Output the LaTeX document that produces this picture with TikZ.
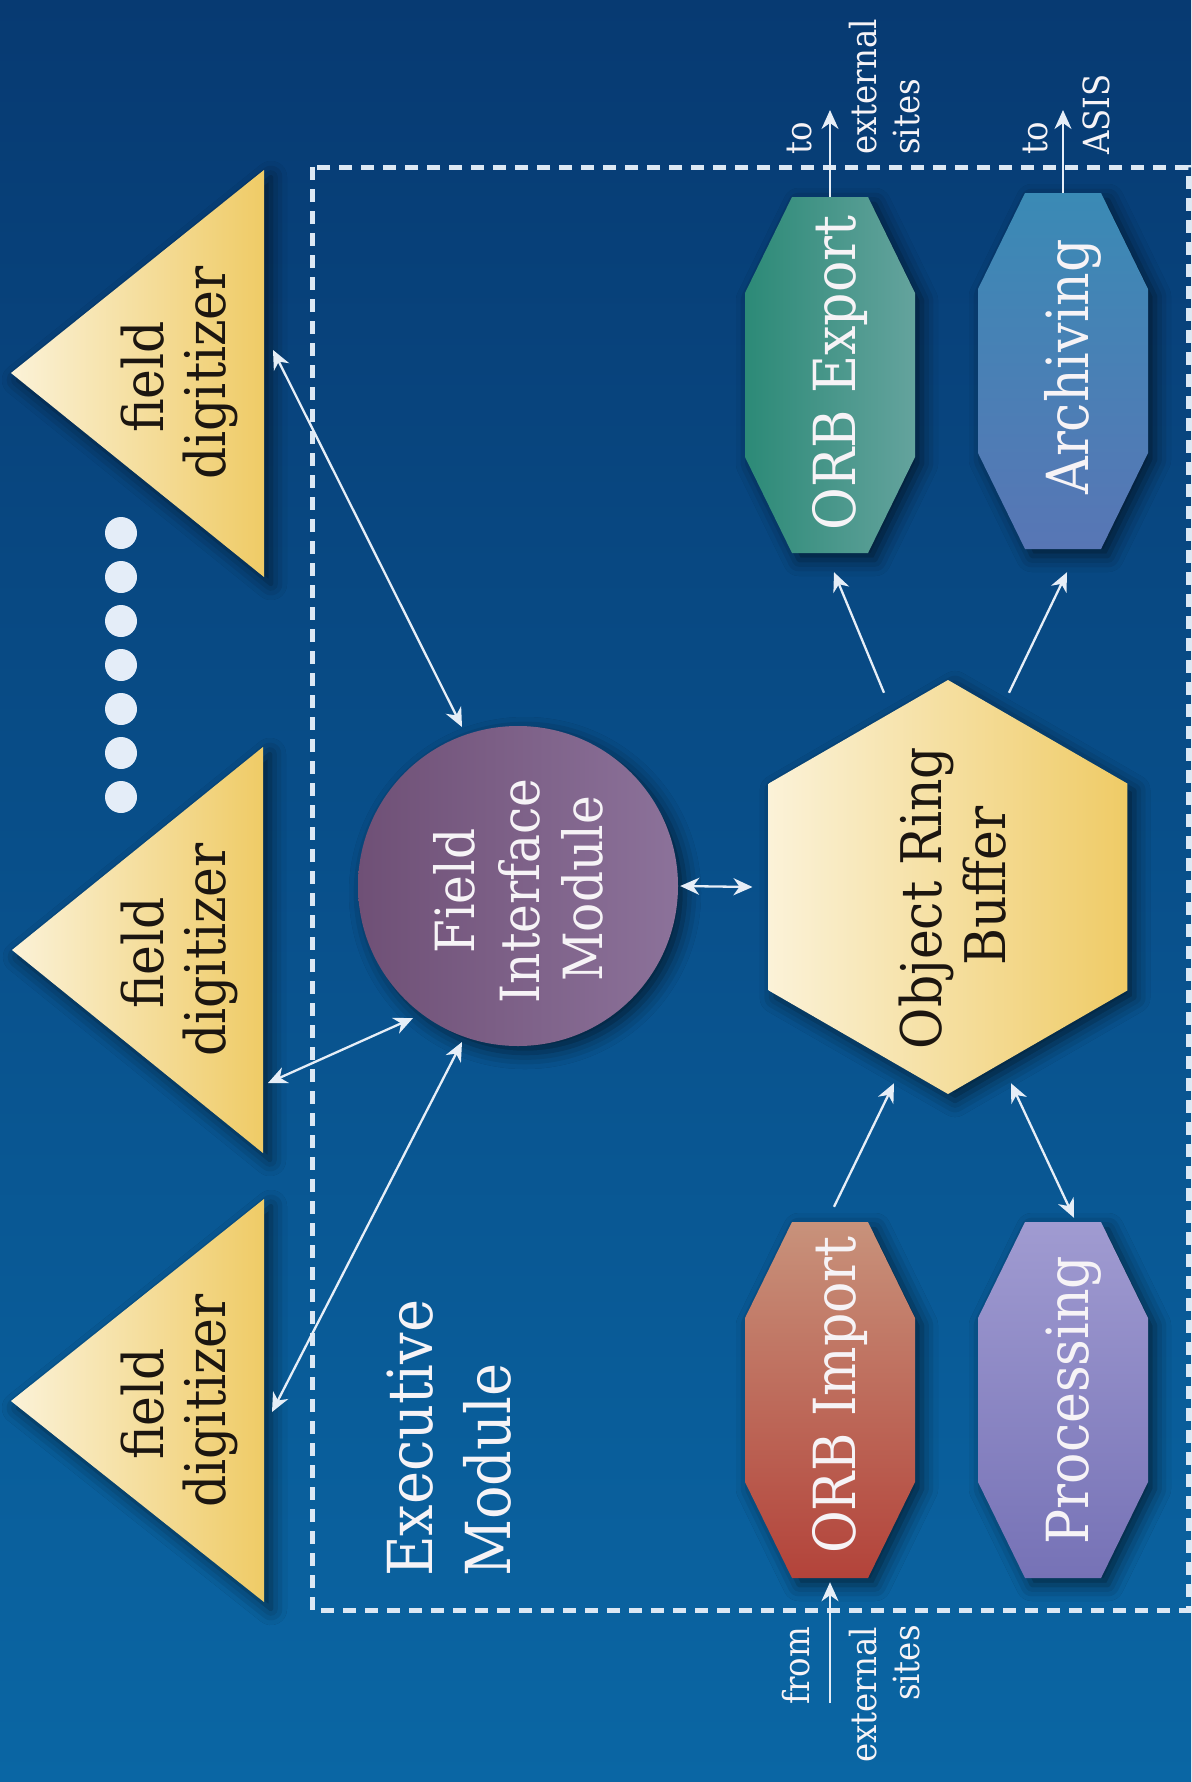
\documentclass[tikz,border=0pt]{standalone}
\usepackage{fontspec}
\setmainfont{DejaVu Serif Condensed}
\usetikzlibrary{arrows.meta,calc,shapes.geometric,shadows.blur}
\definecolor{bgtop}{HTML}{073A72}
\definecolor{bgbot}{HTML}{0A66A4}
\definecolor{creamL}{HTML}{FBF2D8}
\definecolor{goldR}{HTML}{EFCB66}
\definecolor{fimL}{HTML}{6F5076}
\definecolor{fimR}{HTML}{8C729A}
\definecolor{oeL}{HTML}{2C8A77}
\definecolor{oeR}{HTML}{64A39D}
\definecolor{arT}{HTML}{3A8AB5}
\definecolor{arB}{HTML}{5876B5}
\definecolor{oiT}{HTML}{C8927B}
\definecolor{oiB}{HTML}{B3433A}
\definecolor{prT}{HTML}{A09BD1}
\definecolor{prB}{HTML}{7672B6}
\definecolor{arrowc}{HTML}{E6EEF7}
\definecolor{dashc}{HTML}{DCE8F4}
\definecolor{dotc}{HTML}{E4EDF8}
\definecolor{inkc}{HTML}{1C1610}
\definecolor{whitec}{HTML}{F6F3F6}
\newcommand\octoshape[4]{%
  \path[#4, shad] ({#2-38},{#3-178}) -- ({#2+38},{#3-178}) -- ({#2+85},{#3-82}) -- ({#2+85},{#3+82}) -- ({#2+38},{#3+178}) -- ({#2-38},{#3+178}) -- ({#2-85},{#3+82}) -- ({#2-85},{#3-82}) -- cycle;
  \node[minimum width=170pt, minimum height=356pt, inner sep=0pt] (#1) at (#2,#3) {};}
\tikzset{
  >={Stealth[length=19pt,width=17pt,inset=6pt]},
  conn/.style={draw=arrowc, line width=2.3pt},
  shad/.style={blur shadow={shadow xshift=7pt, shadow yshift=-7pt, shadow blur radius=16pt, shadow opacity=60}},
  tri/.style={left color=creamL, right color=goldR, shad},
  dashbox/.style={draw=dashc, line width=5pt, dash pattern=on 13pt off 9pt},
  txtB/.style={rotate=90, inner sep=0pt, anchor=base, text=inkc, font=\fontsize{56}{64}\selectfont},
  txtW/.style={rotate=90, inner sep=0pt, anchor=base, text=whitec, font=\fontsize{54}{62}\selectfont},
  octtxt/.style={rotate=90, inner sep=0pt, anchor=base, text=whitec, font=\fontsize{58}{66}\selectfont},
  exectxt/.style={rotate=90, inner sep=0pt, anchor=base west, text=whitec, font=\fontsize{62}{70}\selectfont},
  smallW/.style={rotate=90, inner sep=0pt, anchor=base west, text=whitec, font=\fontsize{36}{42}\selectfont},
  smallE/.style={rotate=90, inner sep=0pt, anchor=base east, text=whitec, font=\fontsize{36}{42}\selectfont},
}
\begin{document}
\begin{tikzpicture}[x={(1pt,0pt)}, y={(0pt,-1pt)}]
\useasboundingbox (0,0) rectangle (1191,1782);
\shade[top color=bgtop, bottom color=bgbot] (0,0) rectangle (1191,1782);

% executive module frame
\draw[dashbox] (312,167) rectangle (1188,1610);

% field digitizers
\path[tri] (11,373) -- (264,170) -- (264,577) -- cycle;
\path[tri] (12,950) -- (263,747) -- (263,1153) -- cycle;
\path[tri] (11,1401) -- (264,1199) -- (264,1602) -- cycle;
\coordinate (t1p) at (273,350);
\coordinate (t2p) at (268,1083);
\coordinate (t3p) at (272,1412);
\node[txtB] (t1a) at (163,377) {field};
\node[txtB] (t1b) at (225,373) {digitizer};
\node[txtB] (t2a) at (163,953) {field};
\node[txtB] (t2b) at (225,950) {digitizer};
\node[txtB] (t3a) at (163,1404) {field};
\node[txtB] (t3b) at (225,1401) {digitizer};

% dots
\foreach \k in {0,...,6} \fill[dotc] (121,{533+44*\k}) circle[radius=16];

% field interface module
\node[circle, minimum size=320pt, inner sep=0pt, left color=fimL, right color=fimR, shad] (fim) at (518,886) {};
\node[txtW] (fim1) at (474,891) {Field};
\node[txtW] (fim2) at (539,891) {Interface};
\node[txtW] (fim3) at (602,889) {Module};

% object ring buffer
\node[regular polygon, regular polygon sides=6, regular polygon rotate=30, minimum size=414pt, inner sep=0pt, left color=creamL, right color=goldR, shad] (orb) at (948,887) {};
\node[txtB] (orb1) at (941,898) {Object Ring};
\node[txtB] (orb2) at (1005,886) {Buffer};

% octagons
\octoshape{oe}{830}{375}{left color=oeL, right color=oeR}
\octoshape{ar}{1063}{371}{top color=arT, bottom color=arB}
\octoshape{oi}{830}{1400}{top color=oiT, bottom color=oiB}
\octoshape{pr}{1063}{1400}{top color=prT, bottom color=prB}
\node[octtxt] (oet) at (855,373) {ORB Export};
\node[octtxt] (art) at (1088,367) {Archiving};
\node[octtxt] (oit) at (855,1395) {ORB Import};
\node[octtxt] (prt) at (1088,1400) {Processing};

% executive module label
\node[exectxt] (ex1) at (432,1577) {Executive};
\node[exectxt] (ex2) at (510,1577) {Module};

% connectors
\draw[conn,<->] (t1p) -- ($(fim.center)+(-56,-159)$);
\draw[conn,<->] (t2p) -- ($(fim.center)+(-105,132)$);
\draw[conn,<->] (t3p) -- ($(fim.center)+(-56,156)$);
\draw[conn,<->] ($(fim.east)+(2,0)$) -- ($(orb.west)+(-16,0)$);
\draw[conn,->] ($(orb.north)+(-64,13)$) -- ($(oe.south)+(4,19)$);
\draw[conn,->] ($(orb.north)+(61,13)$) -- ($(ar.south)+(4,23)$);
\draw[conn,->] ($(oi.north)+(4,-15)$) -- ($(orb.south)+(-54,-11)$);
\draw[conn,<->] ($(pr.north)+(11,-4)$) -- ($(orb.south)+(63,-11)$);

% external links
\coordinate (oeout) at (830,110);
\coordinate (arout) at (1063,110);
\coordinate (oiin) at (830,1703);
\draw[conn,->] (oe.north) -- (oeout);
\draw[conn,->] (ar.north) -- (arout);
\draw[conn,->] (oiin) -- ($(oi.south)+(0,4)$);

\node[smallW] (l1) at (811,155) {to};
\node[smallW] (l2) at (876,155) {external};
\node[smallW] (l3) at (919,155) {sites};
\node[smallW] (l4) at (1047,155) {to};
\node[smallW] (l5) at (1109,155) {ASIS};
\node[smallE] (l6) at (809,1627) {from};
\node[smallE] (l7) at (876,1627) {external};
\node[smallE] (l8) at (919,1625) {sites};
\end{tikzpicture}
\end{document}
